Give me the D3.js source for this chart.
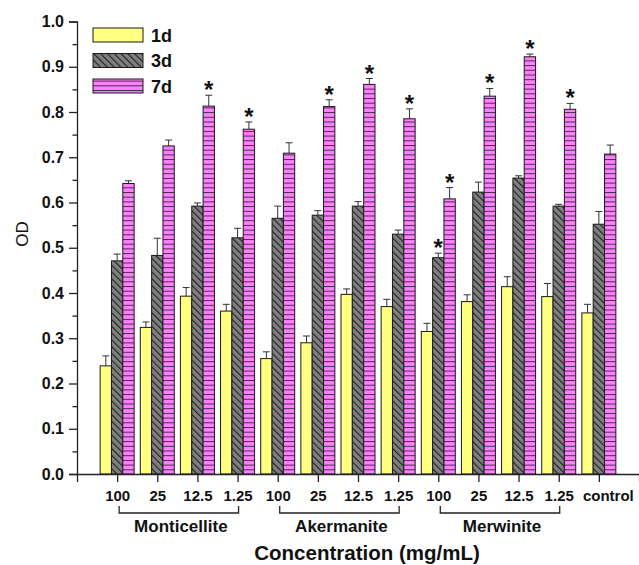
<!DOCTYPE html>
<html>
<head>
<meta charset="utf-8">
<script src="https://cdnjs.cloudflare.com/ajax/libs/d3/7.8.5/d3.min.js"></script>
<style>
  body { margin: 0; background: #fff; }
  text { font-family: "Liberation Sans", Arial, sans-serif; }
</style>
</head>
<body>
<div id="chart"></div>
<script>
var categories = ["100", "25", "12.5", "1.25", "100", "25", "12.5", "1.25", "100", "25", "12.5", "1.25", "control"];
var groupNames = ["Monticellite", "Akermanite", "Merwinite"];
var groupStart = [0, 4, 8];
var groupEnd = [3, 7, 11];
var series = ["1d", "3d", "7d"];

var od1d  = [0.239, 0.324, 0.393, 0.360, 0.255, 0.290, 0.397, 0.370, 0.315, 0.381, 0.414, 0.392, 0.356];
var err1d = [0.022, 0.012, 0.019, 0.015, 0.015, 0.015, 0.012, 0.016, 0.018, 0.015, 0.022, 0.029, 0.019];
var od3d  = [0.471, 0.483, 0.592, 0.522, 0.565, 0.572, 0.592, 0.530, 0.478, 0.623, 0.654, 0.592, 0.552];
var err3d = [0.015, 0.038, 0.007, 0.021, 0.027, 0.010, 0.010, 0.009, 0.010, 0.022, 0.005, 0.004, 0.028];
var od7d  = [0.642, 0.725, 0.813, 0.762, 0.709, 0.812, 0.861, 0.785, 0.608, 0.835, 0.922, 0.806, 0.707];
var err7d = [0.006, 0.013, 0.024, 0.016, 0.023, 0.015, 0.013, 0.022, 0.025, 0.017, 0.006, 0.013, 0.020];
// significance marks (*)
var sig1d = [0, 0, 0, 0, 0, 0, 0, 0, 0, 0, 0, 0, 0];
var sig3d = [0, 0, 0, 0, 0, 0, 0, 0, 1, 0, 0, 0, 0];
var sig7d = [0, 0, 1, 1, 0, 1, 1, 1, 1, 1, 1, 1, 0];

var yTicks = [0, 0.1, 0.2, 0.3, 0.4, 0.5, 0.6, 0.7, 0.8, 0.9, 1.0];

var w = 639, h = 565;
var p = {"left": 77, "right": 639, "top": 21.5, "bot": 474};

var svg = d3.select("#chart").append("svg")
  .attr("width", w)
  .attr("height", h);

var defs = svg.append("defs");

var hatch = defs.append("pattern")
  .attr("id", "hatch3d")
  .attr("patternUnits", "userSpaceOnUse")
  .attr("width", 4.8).attr("height", 4.8)
  .attr("patternTransform", "rotate(-45)");
hatch.append("rect").attr("width", 4.8).attr("height", 4.8).attr("fill", "#808080");
hatch.append("line").attr("x1", 0.6).attr("x2", 0.6).attr("y1", 0).attr("y2", 4.8)
  .attr("stroke", "#262626").attr("stroke-width", 1.2);

var stripe = defs.append("pattern")
  .attr("id", "stripe7d")
  .attr("patternUnits", "userSpaceOnUse")
  .attr("width", 10).attr("height", 4.7)
  .attr("y", 474);
stripe.append("rect").attr("width", 10).attr("height", 4.7).attr("fill", "#ff80ff");
stripe.append("line").attr("x1", 0).attr("x2", 10).attr("y1", 0.5).attr("y2", 0.5)
  .attr("stroke", "#4a2a4a").attr("stroke-width", 1);

var fills = {"1d": "#ffff80", "3d": "url(#hatch3d)", "7d": "url(#stripe7d)"};

var rows = categories.map(function(c, i) {
  return {
    cat: c, idx: i + 1,
    vals: [
      {s: "1d", v: od1d[i], e: err1d[i], sig: sig1d[i]},
      {s: "3d", v: od3d[i], e: err3d[i], sig: sig3d[i]},
      {s: "7d", v: od7d[i], e: err7d[i], sig: sig7d[i]}
    ]
  };
});

var xScale = d3.scaleLinear()
  .domain([0, 14])
  .range([p.left, p.right]);

var subScale = d3.scaleBand()
  .domain(series)
  .range([-17, 17]);

var yScale = d3.scaleLinear()
  .domain([0, 1])
  .range([p.bot, p.top]);

// bars
var groups = svg.selectAll(".cat")
  .data(rows)
  .enter()
  .append("g")
    .attr("class", "cat")
    .attr("transform", function(d) { return "translate(" + xScale(d.idx) + ",0)"; });

groups.selectAll("rect")
  .data(function(d) { return d.vals; })
  .enter()
  .append("rect")
    .attr("x", function(d) { return subScale(d.s); })
    .attr("y", function(d) { return yScale(d.v); })
    .attr("width", subScale.bandwidth())
    .attr("height", function(d) { return yScale(0) - yScale(d.v); })
    .attr("fill", function(d) { return fills[d.s]; })
    .attr("stroke", "#1a1a1a")
    .attr("stroke-width", 1);

// error bars (upper only)
var eb = groups.selectAll(".err")
  .data(function(d) { return d.vals; })
  .enter()
  .append("g")
    .attr("class", "err")
    .attr("transform", function(d) { return "translate(" + (subScale(d.s) + subScale.bandwidth() / 2) + ",0)"; });

eb.append("line")
  .attr("x1", 0).attr("x2", 0)
  .attr("y1", function(d) { return yScale(d.v); })
  .attr("y2", function(d) { return yScale(d.v + d.e); })
  .attr("stroke", "#333").attr("stroke-width", 1);

eb.append("line")
  .attr("x1", -3.5).attr("x2", 3.5)
  .attr("y1", function(d) { return yScale(d.v + d.e); })
  .attr("y2", function(d) { return yScale(d.v + d.e); })
  .attr("stroke", "#333").attr("stroke-width", 1);

eb.filter(function(d) { return d.sig; })
  .append("text")
  .attr("x", 0)
  .attr("y", function(d) { return yScale(d.v + d.e) + 3; })
  .attr("text-anchor", "middle")
  .style("font-size", "24px")
  .style("font-weight", "bold")
  .attr("fill", "#111")
  .text("*");

// y axis
var yAxis = d3.axisLeft(yScale)
  .tickValues(yTicks)
  .tickFormat(d3.format(".1f"))
  .tickSize(8)
  .tickPadding(5);

var yG = svg.append("g")
  .attr("transform", "translate(" + p.left + ",0)")
  .call(yAxis);

yG.select(".domain").attr("stroke", "#222").attr("stroke-width", 1.3);
yG.selectAll(".tick line").attr("stroke", "#222").attr("stroke-width", 1.3);
yG.selectAll(".tick text")
  .attr("fill", "#111")
  .style("font-size", "16px")
  .style("font-weight", "bold")
  .style("font-family", "'Liberation Sans', Arial, sans-serif");

svg.append("g")
  .attr("transform", "translate(" + p.left + ",0)")
  .call(d3.axisLeft(yScale).tickValues(d3.range(0.05, 1, 0.1)).tickSize(4.5).tickFormat(""))
  .call(function(g) {
    g.select(".domain").remove();
    g.selectAll("line").attr("stroke", "#222").attr("stroke-width", 1.3);
  });

// x axis
var xAxis = d3.axisBottom(xScale)
  .tickValues(d3.range(0, 15))
  .tickSize(8)
  .tickFormat(function(d) { return (d >= 1 && d <= 13) ? categories[d - 1] : ""; })
  .tickSizeOuter(0)
  .tickPadding(8);

var xG = svg.append("g")
  .attr("transform", "translate(0," + p.bot + ")")
  .call(xAxis);

xG.select(".domain").attr("stroke", "#222").attr("stroke-width", 1.3);
xG.selectAll(".tick line").attr("stroke", "#222").attr("stroke-width", 1.3);
xG.selectAll(".tick text")
  .attr("fill", "#111")
  .attr("dx", function(d) { return d == 13 ? 9 : 0; })
  .style("font-size", "15px")
  .style("font-weight", "bold")
  .style("font-family", "'Liberation Sans', Arial, sans-serif");

// group brackets
groupNames.forEach(function(name, i) {
  var x0 = xScale(groupStart[i] + 1) + 2,
      x1 = xScale(groupEnd[i] + 1) + 1;
  svg.append("path")
    .attr("d", "M" + x0 + ",506V513H" + x1 + "V506")
    .attr("fill", "none")
    .attr("stroke", "#222")
    .attr("stroke-width", 1.3);
  svg.append("text")
    .attr("x", (x0 + x1) / 2 + 2)
    .attr("y", 532)
    .attr("text-anchor", "middle")
    .style("font-size", "17px")
    .style("font-weight", "bold")
    .attr("fill", "#111")
    .text(name);
});

svg.append("text")
  .attr("x", 367)
  .attr("y", 560)
  .attr("text-anchor", "middle")
  .style("font-size", "20.5px")
  .style("font-weight", "bold")
  .attr("fill", "#111")
  .text("Concentration (mg/mL)");

svg.append("text")
  .attr("transform", "translate(28,234) rotate(-90)")
  .attr("text-anchor", "middle")
  .style("font-size", "17px")
  .attr("fill", "#111")
  .text("OD");

// legend
var legend = svg.selectAll(".legend")
  .data(series)
  .enter()
  .append("g")
    .attr("class", "legend")
    .attr("transform", function(d, i) { return "translate(93," + (35 + i * 25.5) + ")"; });

legend.append("rect")
  .attr("x", 0).attr("y", -7)
  .attr("width", 50).attr("height", 14)
  .attr("fill", function(d) { return fills[d]; })
  .attr("stroke", "#1a1a1a")
  .attr("stroke-width", 1);

legend.append("text")
  .attr("x", 58)
  .attr("y", 6.5)
  .style("font-size", "18px")
  .style("font-weight", "bold")
  .attr("fill", "#111")
  .text(function(d) { return d; });
</script>
</body>
</html>
